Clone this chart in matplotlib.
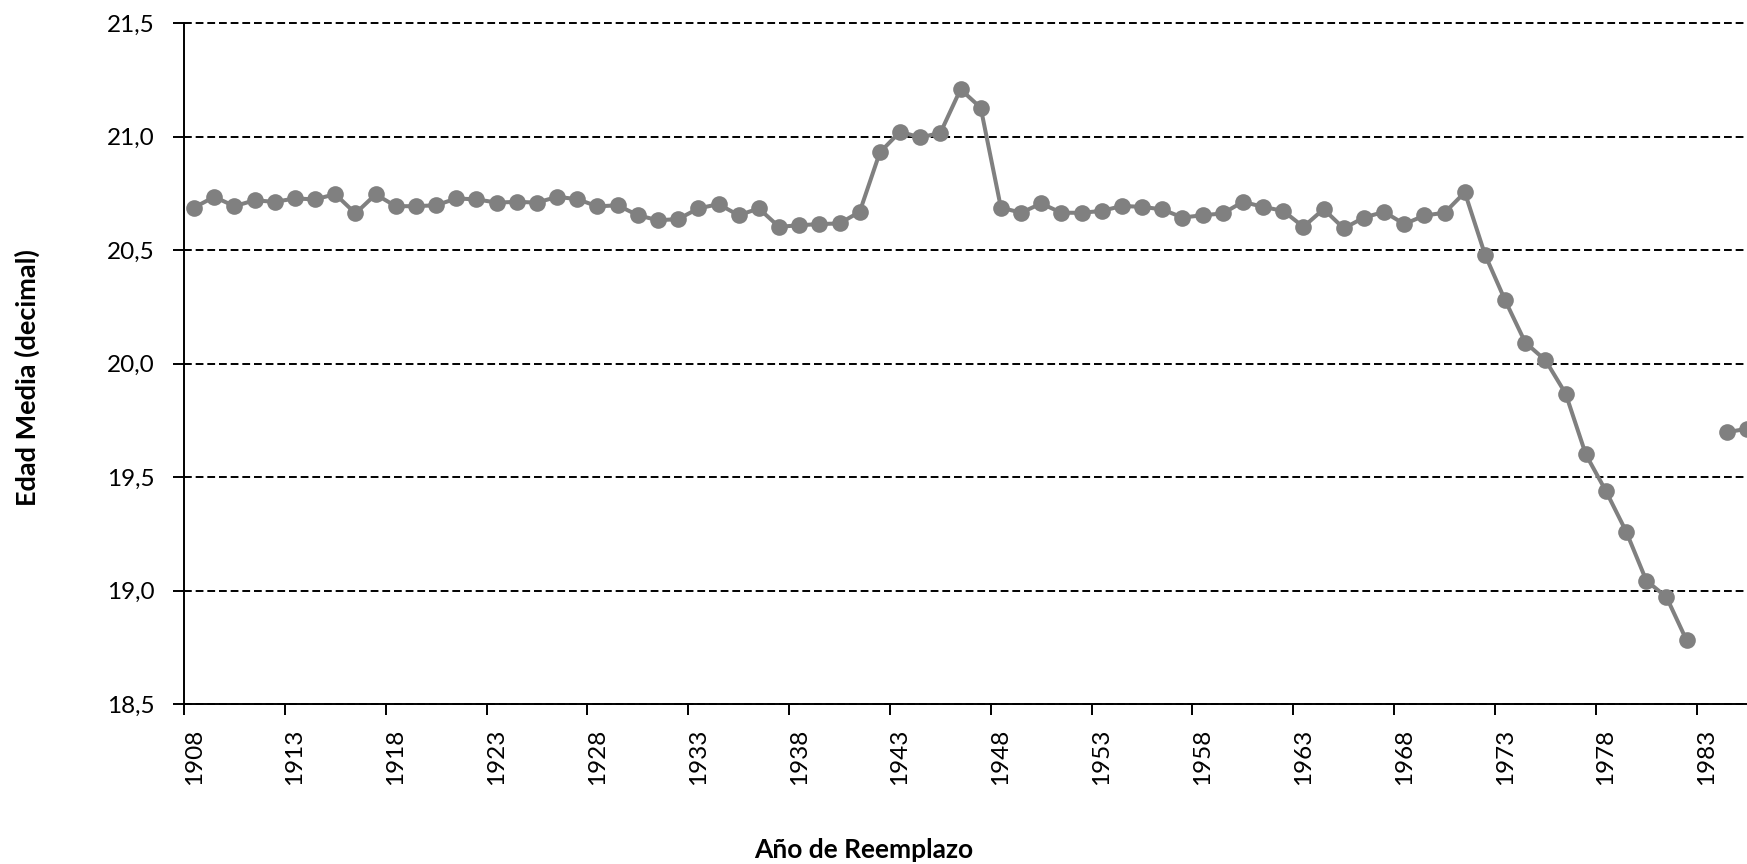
import numpy as np
import matplotlib

matplotlib.use("Agg")
import matplotlib.pyplot as plt
from matplotlib.ticker import FixedLocator, FuncFormatter

plt.rcParams["font.family"] = ["Lato", "DejaVu Sans"]

# Mean age per replacement year (1983 has no value)
years = list(range(1908, 1986))
edad_media = [
    20.688, 20.735, 20.694, 20.720, 20.713, 20.728, 20.724, 20.747, 20.662, 20.746,  # 1908-1917
    20.694, 20.694, 20.698, 20.728, 20.724, 20.710, 20.713, 20.710, 20.735, 20.725,  # 1918-1927
    20.693, 20.698, 20.654, 20.632, 20.637, 20.684, 20.703, 20.654, 20.684, 20.603,  # 1928-1937
    20.610, 20.615, 20.618, 20.669, 20.931, 21.022, 20.997, 21.017, 21.209, 21.128,  # 1938-1947
    20.688, 20.665, 20.706, 20.665, 20.665, 20.673, 20.695, 20.691, 20.680, 20.644,  # 1948-1957
    20.654, 20.662, 20.713, 20.691, 20.673, 20.603, 20.681, 20.596, 20.644, 20.669,  # 1958-1967
    20.615, 20.653, 20.665, 20.755, 20.481, 20.279, 20.093, 20.015, 19.868, 19.600,  # 1968-1977
    19.438, 19.260, 19.044, 18.971, 18.780, np.nan, 19.698, 19.713,                  # 1978-1985
]
y_ticks = [18.5, 19.0, 19.5, 20.0, 20.5, 21.0, 21.5]
x_label_years = list(range(1908, 1986, 5))

W, H = 1747, 864
fig = plt.figure(figsize=(W / 100, H / 100), dpi=100)

# plot area runs past the right edge of the picture, as in the source
px_per_year = 20.17
left_px, top_px, bottom_px = 184, 23.3, 704
x_lo, x_hi = 1907.5, 1990.5
width_px = (x_hi - x_lo) * px_per_year
ax = fig.add_axes([left_px / W, (H - bottom_px) / H, width_px / W, (bottom_px - top_px) / H])

ax.plot(years, edad_media, color="#808080", lw=2.9, marker="o", ms=12,
        markeredgewidth=0, zorder=3, clip_on=False)

ax.set_xlim(x_lo, x_hi)
ax.set_ylim(18.5, 21.5)

ax.set_yticks(y_ticks)
ax.yaxis.set_major_formatter(FuncFormatter(lambda v, _: f"{v:.1f}".replace(".", ",")))
ax.yaxis.grid(True, color="black", lw=1.4, linestyle=(0, (4, 2)))
for gl in ax.get_ygridlines():
    gl.set_clip_on(False)
ax.set_axisbelow(True)

# category-style axis: ticks on boundaries, labels centred on the category
ax.xaxis.set_major_locator(FixedLocator([y - 0.5 for y in x_label_years]))
ax.xaxis.set_major_formatter(FuncFormatter(lambda v, _: ""))
ax.xaxis.set_minor_locator(FixedLocator(x_label_years))
ax.xaxis.set_minor_formatter(FuncFormatter(lambda v, _: f"{int(round(v))}"))
ax.tick_params(axis="x", which="major", length=8, width=1.4, direction="out")
ax.tick_params(axis="x", which="minor", length=0, pad=18, labelsize=17.5, labelrotation=90)
ax.tick_params(axis="y", length=8, width=1.4, direction="out", pad=13, labelsize=17.5)

for side in ("top", "right"):
    ax.spines[side].set_visible(False)
for side in ("left", "bottom"):
    ax.spines[side].set_linewidth(1.4)

fig.text(864 / W, 1 - 850 / H, "Año de Reemplazo", ha="center", va="center",
         fontsize=19, fontweight="bold")
fig.text(27 / W, 1 - 378 / H, "Edad Media (decimal)", ha="center", va="center",
         rotation=90, fontsize=19.5, fontweight="bold")

fig.savefig("out.png", dpi=100)
